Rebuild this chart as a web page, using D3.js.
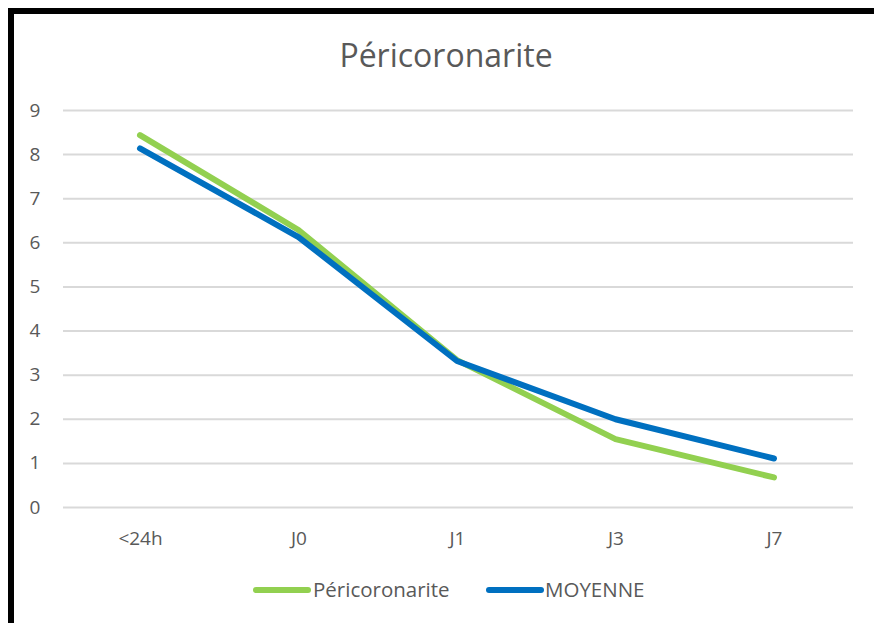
<!DOCTYPE html>
<html><head><meta charset="utf-8">
<script src="https://cdn.jsdelivr.net/npm/d3@7"></script>
<style>body{margin:0;background:#fff}svg{display:block}</style>
</head><body>
<script>
const categories = ["<24h","J0","J1","J3","J7"];
const seriesNames = ["Péricoronarite","MOYENNE"];
const pericoronarite = [8.43, 6.28, 3.33, 1.54, 0.67];
const moyenne = [8.13, 6.12, 3.31, 1.99, 1.10];
const yTicks = [0,1,2,3,4,5,6,7,8,9];
const colors = ["#92D050","#0070C0"];

const W=874,H=623;
const svg=d3.select("body").append("svg").attr("width",W).attr("height",H);
svg.append("rect").attr("x",0).attr("y",0).attr("width",W).attr("height",H).attr("fill","#fff");
svg.append("rect").attr("x",11).attr("y",11).attr("width",W+20).attr("height",H+20)
  .attr("fill","none").attr("stroke","#000").attr("stroke-width",6);

const font="'Open Sans', Lato, sans-serif";
const x=d3.scalePoint().domain(categories).range([140,774]);
const y=d3.scaleLinear().domain([0,9]).range([507,110]);

const yAxis=d3.axisLeft(y).tickValues(yTicks).tickSize(-(853-63)).tickPadding(20);
const gy=svg.append("g").attr("transform","translate(63,0)").call(yAxis);
gy.select(".domain").remove();
gy.selectAll(".tick line").attr("stroke","#d9d9d9").attr("stroke-width",2);
gy.selectAll(".tick text").attr("fill","#595959").style("font-family",font).style("font-size","19px").attr("x",-28).attr("text-anchor","middle");

const xAxis=d3.axisBottom(x).tickSize(0).tickPadding(0);
const gx=svg.append("g").attr("transform","translate(0,538)").call(xAxis);
gx.select(".domain").remove();
gx.selectAll(".tick text").attr("fill","#595959").style("font-family",font).style("font-size","19px").attr("dy","0.35em");

svg.append("text").attr("x",446).attr("y",67).attr("text-anchor","middle")
  .attr("fill","#595959").style("font-family",font).style("font-size","32px").text("Péricoronarite");

const line=d3.line().x((d,i)=>x(categories[i])).y(d=>y(d));
[pericoronarite,moyenne].forEach((s,k)=>{
  svg.append("path").datum(s).attr("d",line).attr("fill","none")
    .attr("stroke",colors[k]).attr("stroke-width",6).attr("stroke-linecap","round").attr("stroke-linejoin","round");
});

const legend=[{x1:256,x2:308,tx:313},{x1:489,x2:541,tx:545}];
legend.forEach((l,k)=>{
  svg.append("line").attr("x1",l.x1).attr("x2",l.x2).attr("y1",590).attr("y2",590)
    .attr("stroke",colors[k]).attr("stroke-width",6).attr("stroke-linecap","round");
  svg.append("text").attr("x",l.tx).attr("y",590).attr("dy","0.35em").attr("fill","#595959")
    .style("font-family",font).style("font-size","20.5px").text(seriesNames[k]);
});
</script>
</body></html>
